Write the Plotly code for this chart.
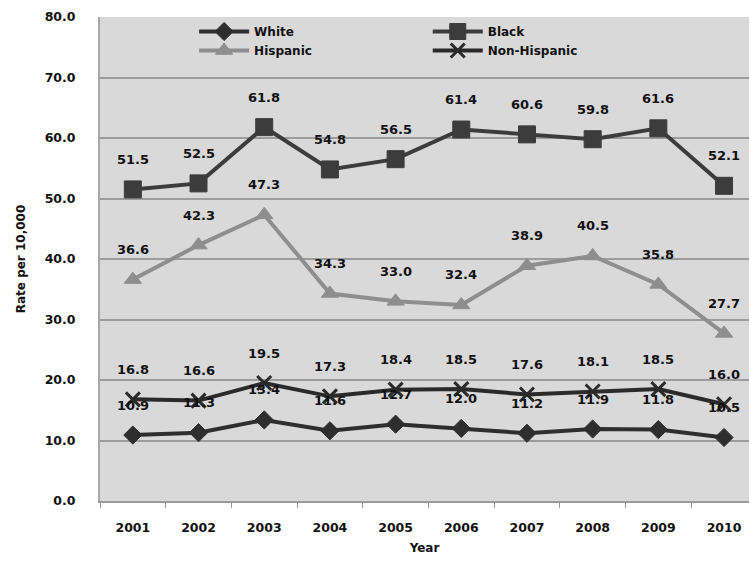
import plotly.graph_objects as go

years = ["2001", "2002", "2003", "2004", "2005", "2006", "2007", "2008", "2009", "2010"]
white = [10.9, 11.3, 13.4, 11.6, 12.7, 12.0, 11.2, 11.9, 11.8, 10.5]
black = [51.5, 52.5, 61.8, 54.8, 56.5, 61.4, 60.6, 59.8, 61.6, 52.1]
hispanic = [36.6, 42.3, 47.3, 34.3, 33.0, 32.4, 38.9, 40.5, 35.8, 27.7]
non_hispanic = [16.8, 16.6, 19.5, 17.3, 18.4, 18.5, 17.6, 18.1, 18.5, 16.0]
y_ticks = [0, 10, 20, 30, 40, 50, 60, 70, 80]

FONT = "DejaVu Sans"

series = [
    ("White", white, "#2e2e2e", "diamond", 14, 1, "legend"),
    ("Black", black, "#3c3c3c", "square", 17, 1, "legend2"),
    ("Hispanic", hispanic, "#8e8e8e", "triangle-up", 15, 1, "legend"),
    ("Non-Hispanic", non_hispanic, "#2a2a2a", "x-thin", 14, 3, "legend2"),
]

fig = go.Figure()
for name, vals, color, sym, size, lw, leg in series:
    fig.add_trace(go.Scatter(
        x=years, y=vals, name=name, mode="lines+markers", legend=leg,
        line=dict(color=color, width=4),
        marker=dict(symbol=sym, size=size, color=color,
                    line=dict(color=color, width=lw)),
    ))
    for i, v in enumerate(vals):
        fig.add_annotation(x=i, y=v, xref="x", yref="y", text=f"{v:.1f}", showarrow=False,
                           yshift=30, font=dict(family=FONT, size=13, color="#111111",
                                                weight="bold"))

leg_common = dict(orientation="v", yanchor="top", xanchor="left", y=1.0,
                  bgcolor="rgba(0,0,0,0)", itemwidth=50,
                  font=dict(family=FONT, size=12, color="#111111", weight="bold"))

fig.update_layout(
    width=749, height=563,
    margin=dict(l=100, r=0, t=17, b=62),
    paper_bgcolor="white",
    plot_bgcolor="#d9d9d9",
    font=dict(family=FONT, size=12, color="#111111", weight="bold"),
    showlegend=True,
    legend=dict(x=0.145, **leg_common),
    legend2=dict(x=0.505, **leg_common),
)
fig.update_xaxes(
    type="category", range=[-0.5, 9.38],
    showgrid=False, showline=True, linecolor="#9a9a9a", linewidth=2,
    ticks="outside", tickson="boundaries", ticklen=5, tickcolor="#9a9a9a",
    ticklabelstandoff=14,
    tickfont=dict(family=FONT, size=12.5, color="#111111", weight="bold"),
    title=dict(text="Year", font=dict(family=FONT, size=12, color="#111111", weight="bold"),
               standoff=10),
)
fig.update_yaxes(
    range=[0, 80], tickvals=y_ticks, ticktext=[f"{t:.1f}" for t in y_ticks],
    showgrid=True, gridcolor="#9c9c9c", gridwidth=2,
    showline=True, linecolor="#a8a8a8", linewidth=2,
    zeroline=False, ticks="", ticklabelstandoff=20,
    tickfont=dict(family=FONT, size=12.5, color="#111111", weight="bold"),
    title=dict(text="Rate per 10,000", font=dict(family=FONT, size=12, color="#111111", weight="bold"),
               standoff=16),
)

fig.write_html("out.html")
